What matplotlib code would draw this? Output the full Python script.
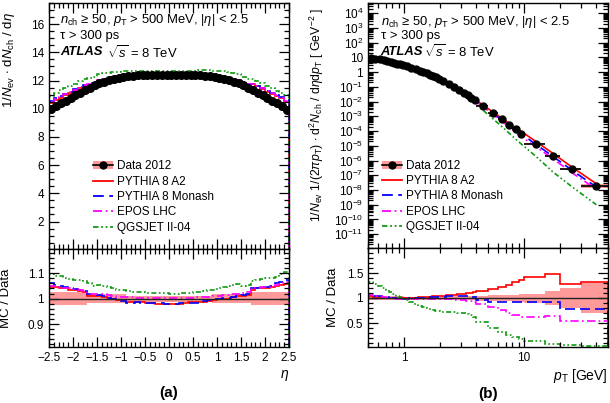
import numpy as np
import matplotlib
matplotlib.use('Agg')
import matplotlib.pyplot as plt
from matplotlib.patches import Patch
from matplotlib.lines import Line2D
from matplotlib.ticker import MultipleLocator, FixedLocator, NullFormatter, FuncFormatter, LogLocator

plt.rcParams['font.family'] = ['Liberation Sans', 'DejaVu Sans']
plt.rcParams['mathtext.fontset'] = 'custom'
plt.rcParams['mathtext.rm'] = 'Liberation Sans'
plt.rcParams['mathtext.it'] = 'Liberation Sans:italic'
plt.rcParams['mathtext.bf'] = 'Liberation Sans:bold'

# ---- (a) eta distribution ----
eta_edges = np.linspace(-2.5, 2.5, 51)
eta_data = [9.95, 10.18, 10.38, 10.57, 10.76, 10.95, 11.14, 11.33, 11.50, 11.65,
            11.79, 11.91, 12.02, 12.11, 12.19, 12.26, 12.31, 12.35, 12.38, 12.40,
            12.41, 12.42, 12.42, 12.42, 12.42, 12.42, 12.42, 12.42, 12.42, 12.41,
            12.40, 12.38, 12.35, 12.31, 12.26, 12.19, 12.11, 12.02, 11.91, 11.79,
            11.65, 11.50, 11.33, 11.14, 10.95, 10.76, 10.57, 10.38, 10.18, 9.90]
eta_unc = [0.025] * 8 + [0.017] * 8 + [0.012] * 18 + [0.017] * 8 + [0.025] * 8

eta_r_a2 = [1.045, 1.045, 1.040, 1.040, 1.035, 1.035, 1.030, 1.025, 1.012, 1.010,
            1.012, 1.008, 1.003, 0.998, 0.995, 0.993, 0.985, 0.985, 0.985, 0.985,
            0.983, 0.982, 0.980, 0.980, 0.980, 0.980, 0.979, 0.980, 0.982, 0.985,
            0.985, 0.985, 0.988, 0.990, 0.995, 0.997, 1.000, 1.000, 1.005, 1.010,
            1.012, 1.015, 1.035, 1.040, 1.040, 1.042, 1.045, 1.050, 1.055, 1.058]
eta_r_monash = [1.060, 1.055, 1.050, 1.045, 1.040, 1.038, 1.033, 1.030, 1.018, 1.015,
                1.015, 1.010, 1.003, 0.998, 0.993, 0.990, 0.983, 0.982, 0.985, 0.984,
                0.983, 0.982, 0.981, 0.981, 0.980, 0.980, 0.980, 0.981, 0.983, 0.984,
                0.984, 0.986, 0.990, 0.993, 0.997, 1.000, 1.002, 1.003, 1.008, 1.012,
                1.015, 1.020, 1.040, 1.042, 1.045, 1.045, 1.050, 1.060, 1.065, 1.075]
eta_r_epos = [1.050, 1.048, 1.045, 1.042, 1.040, 1.037, 1.033, 1.030, 1.020, 1.018,
              1.020, 1.017, 1.013, 1.010, 1.008, 1.007, 1.005, 1.005, 1.004, 1.004,
              1.003, 1.003, 1.002, 1.002, 1.002, 1.002, 1.002, 1.003, 1.003, 1.004,
              1.005, 1.006, 1.007, 1.008, 1.010, 1.012, 1.013, 1.015, 1.018, 1.020,
              1.022, 1.025, 1.040, 1.042, 1.045, 1.047, 1.050, 1.055, 1.060, 1.065]
eta_r_qgs = [1.095, 1.090, 1.088, 1.083, 1.078, 1.075, 1.072, 1.068, 1.060, 1.050,
             1.055, 1.050, 1.045, 1.040, 1.035, 1.032, 1.030, 1.025, 1.025, 1.025,
             1.023, 1.022, 1.022, 1.021, 1.021, 1.020, 1.020, 1.022, 1.022, 1.023,
             1.025, 1.027, 1.030, 1.033, 1.035, 1.040, 1.045, 1.050, 1.055, 1.058,
             1.050, 1.055, 1.070, 1.075, 1.078, 1.080, 1.082, 1.085, 1.095, 1.105]

# ---- (b) pT distribution ----
pt_edges = [0.5, 0.55, 0.6, 0.65, 0.7, 0.75, 0.8, 0.85, 0.9, 0.95,
            1.0, 1.1, 1.2, 1.3, 1.4, 1.5, 1.6, 1.7, 1.8, 1.9,
            2.0, 2.25, 2.5, 2.75, 3.0, 3.25, 3.5, 3.75, 4.0,
            5.0, 6.0, 7.0, 8.0, 9.0, 10.0, 15.0, 20.0, 30.0, 50.0]
pt_data = [9.55, 8.32, 7.41, 6.46, 5.75, 5.01, 4.47, 3.89, 3.47, 3.09,
           2.57, 2.04, 1.62, 1.29, 1.02, 0.83, 0.68, 0.55, 0.45, 0.36,
           0.26, 0.16, 0.10, 0.063, 0.041, 0.027, 0.018, 0.0126,
           5.4e-3, 1.66e-3, 6.3e-4, 2.7e-4, 1.29e-4, 6.8e-5,
           1.4e-5, 2.0e-6, 2.8e-7, 2.0e-8]
pt_unc = [0.035] * 10 + [0.03] * 10 + [0.035] * 8 + [0.05, 0.055, 0.06, 0.065, 0.07, 0.08] + [0.09, 0.14, 0.2, 0.3]

pt_r_a2 = [1.04, 1.03, 1.02, 1.01, 1.00, 1.00, 0.995, 0.995, 0.995, 0.995,
           1.00, 1.005, 1.01, 1.015, 1.02, 1.025, 1.03, 1.035, 1.04, 1.045,
           1.05, 1.06, 1.07, 1.08, 1.09, 1.10, 1.11, 1.12,
           1.15, 1.18, 1.22, 1.27, 1.32, 1.37, 1.43, 1.48, 1.29, 1.32]
pt_r_monash = [1.06, 1.05, 1.04, 1.03, 1.02, 1.01, 1.00, 0.995, 0.99, 0.99,
               0.99, 0.995, 1.00, 1.005, 1.01, 1.015, 1.02, 1.02, 1.025, 1.025,
               1.03, 1.035, 1.04, 1.04, 1.04, 1.035, 1.03, 1.02,
               0.97, 0.93, 0.93, 0.93, 0.92, 0.92, 0.92, 0.92, 0.79, 0.79]
pt_r_epos = [1.06, 1.05, 1.04, 1.02, 1.01, 1.00, 0.99, 0.985, 0.98, 0.98,
             0.975, 0.975, 0.975, 0.975, 0.975, 0.975, 0.975, 0.975, 0.975, 0.975,
             0.975, 0.975, 0.97, 0.965, 0.96, 0.95, 0.94, 0.93,
             0.88, 0.83, 0.77, 0.71, 0.66, 0.62, 0.62, 0.64, 0.54, 0.55]
pt_r_qgs = [1.33, 1.29, 1.25, 1.20, 1.16, 1.12, 1.08, 1.05, 1.03, 1.00,
            0.96, 0.92, 0.88, 0.85, 0.82, 0.80, 0.78, 0.76, 0.75, 0.74,
            0.73, 0.72, 0.72, 0.71, 0.70, 0.68, 0.66, 0.63,
            0.52, 0.41, 0.33, 0.27, 0.22, 0.19, 0.14, 0.08, 0.06, 0.05]

labels = ['PYTHIA 8 A2', 'PYTHIA 8 Monash', 'EPOS LHC', 'QGSJET II-04']
colors = ['#ff0000', '#0000ff', '#ff00ff', '#119911']
styles = ['-', (0, (6, 3)), (0, (5, 2, 1, 2)), (0, (3, 1.5, 1, 1.5, 1, 1.5))]
band = '#ff9a9a'

W, H = 610, 403
fig = plt.figure(figsize=(W / 100, H / 100), dpi=100)


def px_axes(x0, y0, x1, y1):
    return fig.add_axes([x0 / W, 1 - y1 / H, (x1 - x0) / W, (y1 - y0) / H])


def root_ticks(ax):
    ax.tick_params(which='both', direction='in', top=True, right=True, labelsize=8.5, width=0.9)
    ax.tick_params(which='major', length=7)
    ax.tick_params(which='minor', length=3.5)
    for s in ax.spines.values():
        s.set_linewidth(1.0)


def header(ax, x, x2, ys):
    ax.text(x, ys[0], r'$n_{\rm ch}$ ≥ 50, $p_{\rm T}$ > 500 MeV, |$\eta$| < 2.5',
            transform=ax.transAxes, fontsize=9.4, va='center')
    ax.text(x, ys[1], 'τ > 300 ps', transform=ax.transAxes, fontsize=9.4, va='center')
    ax.text(x, ys[2], 'ATLAS', transform=ax.transAxes, fontsize=9.4, va='center',
            weight='bold', style='italic')
    ax.text(x2, ys[2], r'$\sqrt{s}$ = 8 TeV', transform=ax.transAxes, fontsize=9.4, va='center')


def legend(ax, x, y):
    handles = [(Patch(color=band, lw=0), Line2D([], [], color='k', marker='o', ms=5, lw=1.2))]
    for c, s in zip(colors, styles):
        handles.append(Line2D([], [], color=c, ls=s, lw=1.3))
    ax.legend(handles, ['Data 2012'] + labels, loc='upper left', bbox_to_anchor=(x, y),
              frameon=False, fontsize=8.5, handlelength=1.7, handletextpad=0.3,
              labelspacing=0.28, borderpad=0, borderaxespad=0)


eta_edges_a = np.asarray(eta_edges)
eta_c = 0.5 * (eta_edges_a[1:] + eta_edges_a[:-1])
eta_d = np.asarray(eta_data)
eta_u = np.asarray(eta_unc)

# (a) main
ax = px_axes(49, 3, 289, 249)
ax.bar(eta_c, 2 * eta_u * eta_d, bottom=eta_d * (1 - eta_u), width=0.1, color=band, lw=0)
for r, c, s in zip([eta_r_a2, eta_r_monash, eta_r_epos, eta_r_qgs], colors, styles):
    ax.stairs(eta_d * np.asarray(r), eta_edges_a, baseline=0, color=c, ls=s, lw=1.2)
ax.plot(eta_c, eta_d, 'o', color='k', ms=5.5, zorder=5)
ax.set_xlim(-2.5, 2.5)
ax.set_ylim(0.05, 17.5)
ax.xaxis.set_major_locator(MultipleLocator(0.5))
ax.xaxis.set_minor_locator(MultipleLocator(0.1))
ax.yaxis.set_major_locator(FixedLocator([2, 4, 6, 8, 10, 12, 14, 16]))
ax.yaxis.set_minor_locator(MultipleLocator(0.5))
ax.xaxis.set_major_formatter(NullFormatter())
root_ticks(ax)
ax.set_ylabel(r'1/$N_{\rm ev}$ $\cdot$ d$N_{\rm ch}$ / d$\eta$', fontsize=9.5)
ax.yaxis.set_label_coords(-0.135, 0.77)
header(ax, 0.046, 0.242, [0.931, 0.866, 0.80])
legend(ax, 0.183, 0.36)

# (a) ratio
ax = px_axes(49, 249, 289, 347)
ax.stairs(1 + eta_u, eta_edges_a, baseline=1 - eta_u, fill=True, color=band, lw=0)
ax.axhline(1, color='#222222', lw=1.0)
for r, c, s in zip([eta_r_a2, eta_r_monash, eta_r_epos, eta_r_qgs], colors, styles):
    ax.stairs(r, eta_edges_a, baseline=0, color=c, ls=s, lw=1.2)
ax.set_xlim(-2.5, 2.5)
ax.set_ylim(0.81, 1.195)
ax.xaxis.set_major_locator(MultipleLocator(0.5))
ax.xaxis.set_minor_locator(MultipleLocator(0.1))
ax.yaxis.set_major_locator(FixedLocator([0.9, 1.0, 1.1]))
ax.yaxis.set_minor_locator(MultipleLocator(0.02))
ax.yaxis.set_major_formatter(FuncFormatter(lambda v, p: '%g' % round(v, 2)))
ax.xaxis.set_major_formatter(FuncFormatter(lambda v, p: ('%g' % round(v, 2)).replace('-', '\u2212')))
root_ticks(ax)
ax.set_ylabel('MC / Data', fontsize=9.5)
ax.yaxis.set_label_coords(-0.155, 0.5)
ax.text(1.0, -0.29, r'$\eta$', transform=ax.transAxes, ha='right', va='center', fontsize=10)
ax.text(0.5, -0.47, '(a)', transform=ax.transAxes, ha='center', va='center', fontsize=11, weight='bold')

pt_e = np.asarray(pt_edges)
pt_c = 0.5 * (pt_e[1:] + pt_e[:-1])
pt_d = np.asarray(pt_data)
pt_u = np.asarray(pt_unc)

# (b) main
ax = px_axes(368, 3, 608, 248)
ax.set_xscale('log')
ax.set_yscale('log')
ax.bar(pt_e[:-1], 2 * pt_u * pt_d, bottom=pt_d * (1 - pt_u), width=np.diff(pt_e),
       align='edge', color=band, lw=0)
for r, c, s in zip([pt_r_a2, pt_r_monash, pt_r_epos, pt_r_qgs], colors, styles):
    ax.plot(pt_c, pt_d * np.asarray(r), color=c, ls=s, lw=1.2)
ax.errorbar(pt_c, pt_d, xerr=[pt_c - pt_e[:-1], pt_e[1:] - pt_c], fmt='o', color='k',
            ms=5, elinewidth=1.2, capsize=0, zorder=5)
ax.set_xlim(0.5, 50)
ax.set_ylim(1.15e-12, 5e4)
ax.xaxis.set_major_locator(FixedLocator([1, 10]))
ax.xaxis.set_minor_locator(LogLocator(base=10, subs=np.arange(2, 10), numticks=20))
ax.xaxis.set_major_formatter(NullFormatter())
ax.xaxis.set_minor_formatter(NullFormatter())
ax.yaxis.set_major_locator(FixedLocator([10.0 ** e for e in range(-11, 5)]))
ax.yaxis.set_minor_locator(LogLocator(base=10, subs=np.arange(2, 10), numticks=30))
ax.yaxis.set_minor_formatter(NullFormatter())


def logfmt(v, p):
    e = int(round(np.log10(v)))
    if e == 0:
        return '1'
    if e == 1:
        return '10'
    return r'$10^{%d}$' % e


ax.yaxis.set_major_formatter(FuncFormatter(logfmt))
root_ticks(ax)
ax.set_ylabel(r'1/$N_{\rm ev}$ 1/(2$\pi p_{\rm T}$) $\cdot$ d$^2N_{\rm ch}$ / d$\eta$d$p_{\rm T}$ [ GeV$^{-2}$ ]',
              fontsize=8.8)
ax.yaxis.set_label_coords(-0.175, 0.545)
header(ax, 0.053, 0.232, [0.924, 0.867, 0.80])
legend(ax, 0.058, 0.36)

# (b) ratio
ax = px_axes(368, 248, 608, 347)
ax.set_xscale('log')
ax.stairs(1 + pt_u, pt_e, baseline=1 - pt_u, fill=True, color=band, lw=0)
ax.axhline(1, color='#222222', lw=1.0)
for r, c, s in zip([pt_r_a2, pt_r_monash, pt_r_epos, pt_r_qgs], colors, styles):
    ax.stairs(r, pt_e, baseline=0, color=c, ls=s, lw=1.2)
ax.set_xlim(0.5, 50)
ax.set_ylim(0.02, 2.0)
ax.xaxis.set_major_locator(FixedLocator([1, 10]))
ax.xaxis.set_minor_locator(LogLocator(base=10, subs=np.arange(2, 10), numticks=20))
ax.xaxis.set_major_formatter(FuncFormatter(lambda v, p: '%g' % v))
ax.xaxis.set_minor_formatter(NullFormatter())
ax.yaxis.set_major_locator(FixedLocator([0.5, 1.0, 1.5]))
ax.yaxis.set_minor_locator(MultipleLocator(0.1))
ax.yaxis.set_major_formatter(FuncFormatter(lambda v, p: '%g' % v))
root_ticks(ax)
ax.set_ylabel('MC / Data', fontsize=9.5)
ax.yaxis.set_label_coords(-0.12, 0.5)
ax.text(1.0, -0.29, r'$p_{\rm T}$ [GeV]', transform=ax.transAxes, ha='right', va='center', fontsize=10)
ax.text(0.5, -0.47, '(b)', transform=ax.transAxes, ha='center', va='center', fontsize=11, weight='bold')

fig.savefig('out.png', dpi=100)
